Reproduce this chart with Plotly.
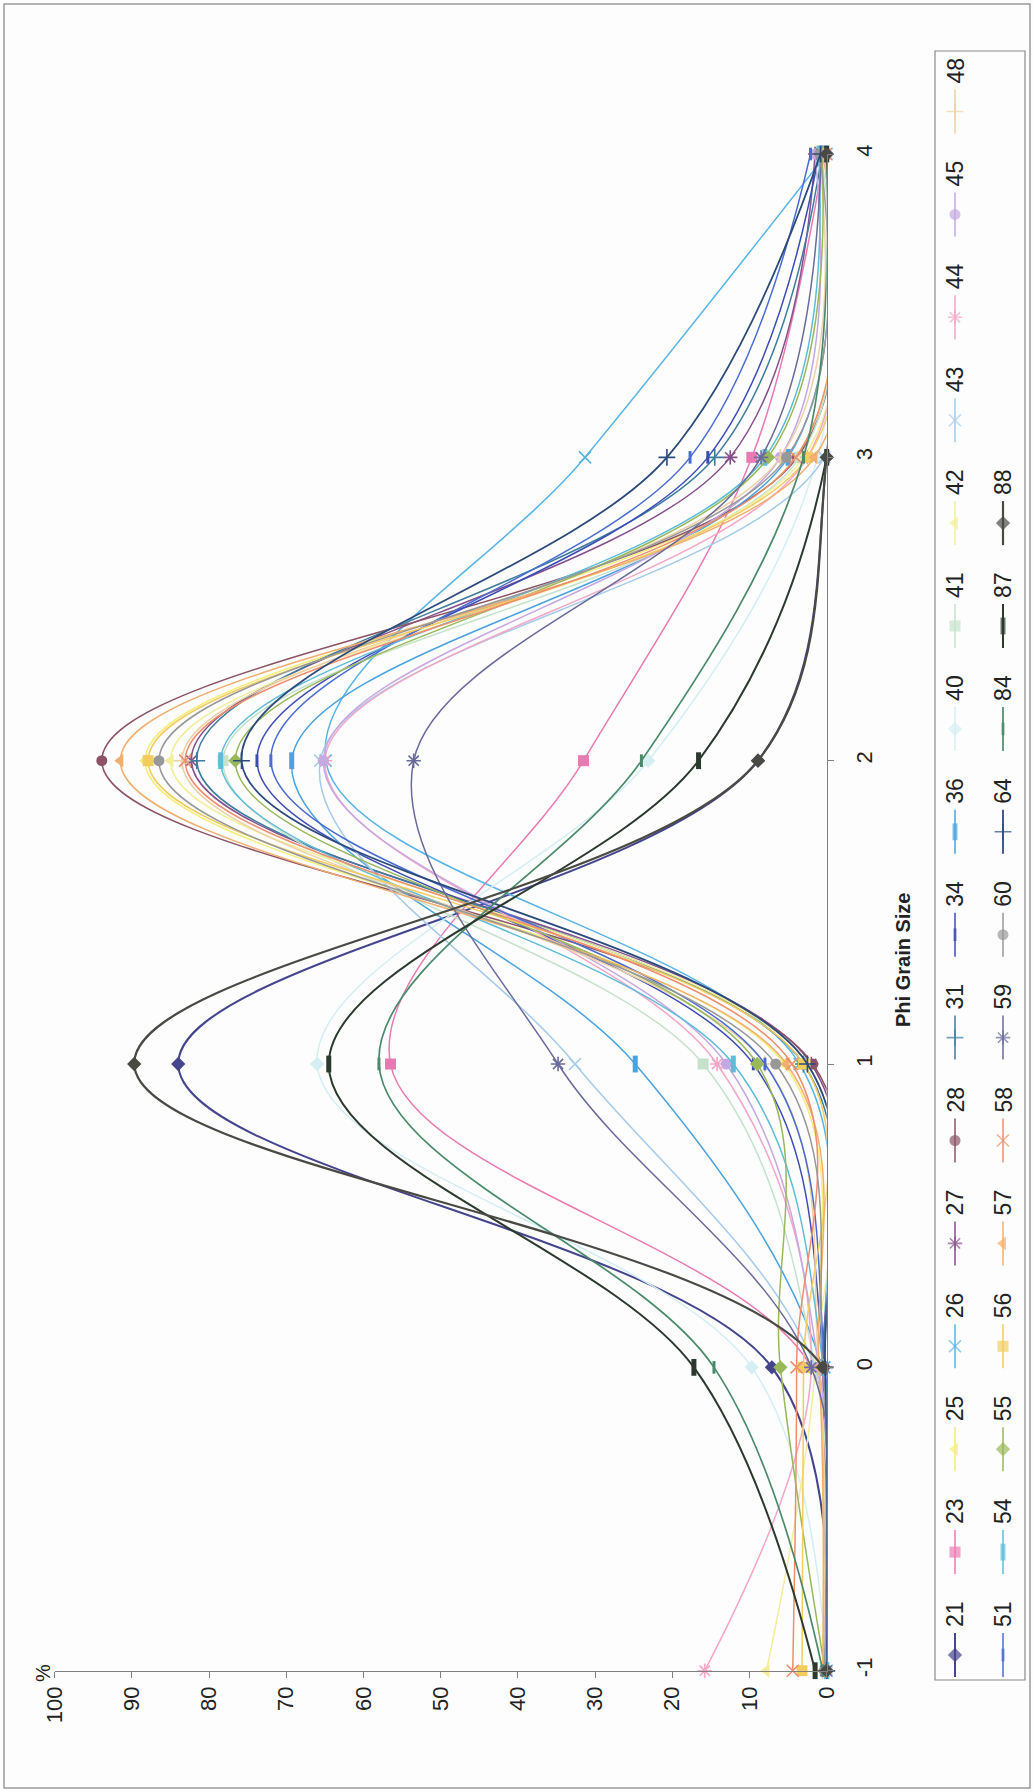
import plotly.graph_objects as go

W, H = 1034, 1792

# ---- data -------------------------------------------------------------
phi = [-1, 0, 1, 2, 3, 4]                     # Phi grain size classes
pct_ticks = list(range(0, 101, 10))
phi_ticks = [-1, 0, 1, 2, 3, 4]

samples = ["21", "23", "25", "26", "27", "28", "31", "34", "36", "40", "41",
           "42", "43", "44", "45", "48", "51", "54", "55", "56", "57", "58",
           "59", "60", "64", "84", "87", "88"]

v21 = [0.0, 7.1, 84.0, 8.9, 0.0, 0.0]
v23 = [0.0, 2.0, 56.5, 31.5, 9.7, 0.3]
v25 = [0.5, 1.0, 5.5, 88.3, 4.0, 0.5]
v26 = [0.0, 0.3, 3.5, 64.9, 31.3, 0.0]
v27 = [0.2, 0.5, 2.0, 82.3, 12.5, 1.5]
v28 = [0.0, 0.3, 1.8, 93.9, 3.8, 0.2]
v31 = [0.0, 0.3, 3.0, 81.6, 14.5, 0.6]
v34 = [0.0, 0.3, 9.5, 73.8, 15.4, 1.0]
v36 = [0.0, 0.6, 24.8, 69.3, 5.0, 0.3]
v40 = [0.0, 9.7, 66.0, 23.1, 1.2, 0.0]
v41 = [0.0, 1.5, 16.0, 78.2, 3.5, 0.8]
v42 = [7.8, 1.5, 2.5, 85.0, 3.0, 0.2]
v43 = [0.0, 1.5, 32.6, 65.6, 0.3, 0.0]
v44 = [15.8, 2.0, 14.2, 65.0, 2.5, 0.5]
v45 = [0.3, 1.0, 13.0, 65.2, 6.0, 1.5]
v48 = [0.5, 1.0, 8.0, 83.5, 6.0, 1.0]
v51 = [0.0, 0.2, 8.0, 72.0, 17.7, 2.1]
v54 = [0.0, 0.4, 12.1, 78.5, 8.0, 1.0]
v55 = [0.2, 6.0, 9.0, 76.6, 7.6, 0.6]
v56 = [3.2, 3.0, 3.0, 87.9, 2.5, 0.4]
v57 = [0.5, 1.0, 5.2, 91.5, 1.6, 0.2]
v58 = [4.4, 3.9, 4.5, 83.1, 4.0, 0.1]
v59 = [0.0, 2.0, 34.8, 53.5, 8.5, 0.7]
v60 = [0.3, 0.5, 6.6, 86.5, 5.2, 0.9]
v64 = [0.0, 0.2, 2.5, 75.8, 20.7, 0.8]
v84 = [0.5, 14.6, 58.0, 24.0, 3.0, 0.0]
v87 = [1.5, 17.2, 64.5, 16.6, 0.0, 0.0]
v88 = [0.0, 0.5, 89.7, 8.9, 0.0, 0.0]

values = {
    "21": v21, "23": v23, "25": v25, "26": v26, "27": v27, "28": v28,
    "31": v31, "34": v34, "36": v36, "40": v40, "41": v41, "42": v42,
    "43": v43, "44": v44, "45": v45, "48": v48, "51": v51, "54": v54,
    "55": v55, "56": v56, "57": v57, "58": v58, "59": v59, "60": v60,
    "64": v64, "84": v84, "87": v87, "88": v88,
}

# ---- styling ----------------------------------------------------------
colors = {
    "21": "#45458e", "23": "#e97bb2", "25": "#f3ee78", "26": "#58b4e6",
    "27": "#86508c", "28": "#8c5266", "31": "#3c7c9c", "34": "#3c4cb4",
    "36": "#4aa2de", "40": "#d4eef4", "41": "#c6e2cc", "42": "#f2ee9c",
    "43": "#a6cbea", "44": "#f3a6c6", "45": "#c6a8e2", "48": "#eed0a6",
    "51": "#4a6cd0", "54": "#5ebcd8", "55": "#98b85a", "56": "#f3cc5e",
    "57": "#f2ae6e", "58": "#ee8e6e", "59": "#6a6a9c", "60": "#989898",
    "64": "#2c4a7c", "84": "#4a8a6a", "87": "#2c3a2e", "88": "#4a4a44",
}
widths = {"21": 2.0, "87": 2.0, "88": 2.2, "64": 1.8, "84": 1.7}

symbol_cycle = ["diamond", "square", "triangle-left", "x-thin-open",
                "asterisk-open", "circle", "cross-thin-open", "dash", "bar"]

FONT = "Liberation Sans, Arial, sans-serif"
TEXT = "#222222"
BG = "#fdfdfd"


def marker_style(i, color):
    kind = symbol_cycle[i % len(symbol_cycle)]
    if kind == "dash":
        return dict(symbol="line-ns-open", size=9, color=color,
                    line=dict(width=3, color=color))
    if kind == "bar":
        return dict(symbol="line-ns-open", size=12, color=color,
                    line=dict(width=5, color=color))
    if kind.endswith("-open"):
        return dict(symbol=kind, size=12, color=color,
                    line=dict(width=1.6, color=color))
    size = 11 if kind != "triangle-left" else 12
    return dict(symbol=kind, size=size, color=color,
                line=dict(width=0, color=color))


# plot-area placement in pixels
PX_L, PX_R = 54.7, 826.7        # 100 % ... 0 %
PX_T, PX_B = 154.0, 1670.7      # phi 4 ... phi -1


def fx(x):
    return x / W


def fy(y):
    return 1 - y / H


fig = go.Figure()

for i, name in enumerate(samples):
    c = colors[name]
    fig.add_trace(go.Scatter(
        x=values[name], y=phi, mode="lines+markers", name=name,
        line=dict(shape="spline", smoothing=1.0, width=widths.get(name, 1.5), color=c),
        marker=marker_style(i, c), showlegend=False, cliponaxis=False,
        xaxis="x", yaxis="y",
    ))

# ---- legend (drawn on a hidden pixel-space axis pair) ------------------
LEG_X0, LEG_X1, LEG_Y0, LEG_Y1 = 935, 1025, 51, 1680
col_x = [955, 1003]
row_top = 1614.0
row_step = 102.9

annotations = []
for i, name in enumerate(samples):
    col = 0 if i < 16 else 1
    row = i if i < 16 else i - 16
    cx = col_x[col]
    ty = row_top - row * row_step
    c = colors[name]
    m = marker_style(i, c)
    m["size"] = [0, m["size"], 0]
    fig.add_trace(go.Scatter(
        x=[cx, cx, cx], y=[ty + 19, ty + 41, ty + 63], mode="lines+markers",
        line=dict(width=widths.get(name, 1.5), color=c), marker=m,
        showlegend=False, hoverinfo="skip", xaxis="x2", yaxis="y2", cliponaxis=False,
    ))
    annotations.append(dict(
        x=fx(cx), y=fy(ty), xref="paper", yref="paper", text=name,
        showarrow=False, textangle=-90, xanchor="center", yanchor="middle",
        font=dict(family=FONT, size=23, color=TEXT),
    ))

annotations.append(dict(
    x=fx(43), y=fy(1673), xref="paper", yref="paper", text="%",
    showarrow=False, textangle=-90, xanchor="center", yanchor="middle",
    font=dict(family=FONT, size=20, color=TEXT),
))
annotations.append(dict(
    x=fx(903), y=fy(960), xref="paper", yref="paper", text="<b>Phi Grain Size</b>",
    showarrow=False, textangle=-90, xanchor="center", yanchor="middle",
    font=dict(family=FONT, size=20, color=TEXT),
))

shapes = [
    dict(type="rect", xref="paper", yref="paper",
         x0=fx(LEG_X0), x1=fx(LEG_X1), y0=fy(LEG_Y1), y1=fy(LEG_Y0),
         line=dict(color="#8a8a8a", width=1.2), fillcolor="rgba(0,0,0,0)"),
    dict(type="rect", xref="paper", yref="paper",
         x0=fx(4), x1=fx(1030), y0=fy(1788), y1=fy(4),
         line=dict(color="#9a9a9a", width=1.5), fillcolor="rgba(0,0,0,0)"),
]

axis_font = dict(family=FONT, size=22, color=TEXT)

fig.update_layout(
    width=W, height=H,
    margin=dict(l=0, r=0, t=0, b=0),
    paper_bgcolor=BG, plot_bgcolor="rgba(0,0,0,0)",
    template="none",
    showlegend=False,
    annotations=annotations,
    shapes=shapes,
    xaxis=dict(
        domain=[fx(PX_L), fx(PX_R)], range=[100, 0], tickmode="array",
        tickvals=pct_ticks, ticktext=[str(t) for t in pct_ticks],
        tickangle=-90, ticks="outside", ticklen=6, tickcolor="#808080",
        showline=True, linecolor="#808080", linewidth=1, showgrid=False,
        zeroline=False, tickfont=axis_font, anchor="y", automargin=False,
    ),
    yaxis=dict(
        domain=[fy(PX_B), fy(PX_T)], range=[-1, 4], tickmode="array",
        tickvals=phi_ticks, ticktext=[str(t) for t in phi_ticks],
        tickangle=-90, ticks="outside", ticklen=6, tickcolor="#808080",
        showline=True, linecolor="#808080", linewidth=1, showgrid=False,
        zeroline=False, tickfont=axis_font, side="right", anchor="x",
        automargin=False, ticklabelstandoff=12,
    ),
    xaxis2=dict(domain=[0, 1], range=[0, W], visible=False, anchor="y2",
                fixedrange=True),
    yaxis2=dict(domain=[0, 1], range=[H, 0], visible=False, anchor="x2",
                fixedrange=True),
)

fig.write_html("out.html")
